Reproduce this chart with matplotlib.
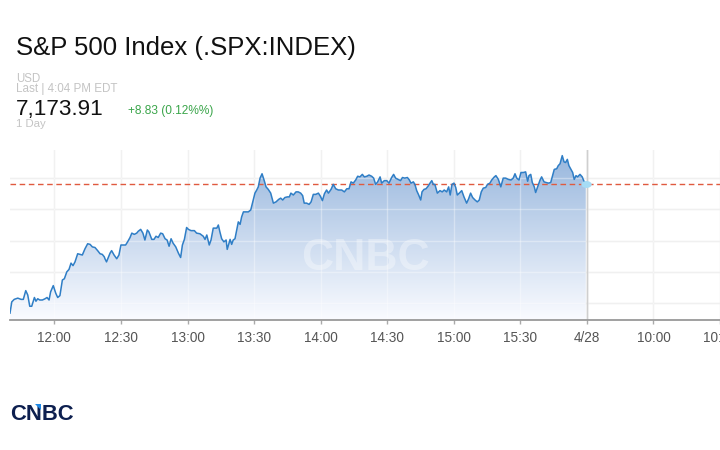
import matplotlib
matplotlib.use('Agg')
import matplotlib.pyplot as plt
import numpy as np
from matplotlib.colors import LinearSegmentedColormap
from matplotlib.patches import Polygon
from matplotlib.path import Path
from matplotlib.transforms import Affine2D

plt.rcParams['font.family'] = ['Liberation Sans', 'DejaVu Sans']

# ---- data ----
title = "S&P 500 Index (.SPX:INDEX)"
currency = "USD"
last_time = "Last | 4:04 PM EDT"
last_price_text = "7,173.91"
change_text = "+8.83 (0.12%%)"
period_text = "1 Day"
prev_close = 7165.08

# minutes since the 9:30 open (next session appended after 16:00 close)
minutes = [
    130.0, 130.8, 131.9, 133.5, 135.0, 136.0, 137.1, 138.0, 138.9, 139.8,
    141.0, 141.7, 142.5, 143.4, 144.6, 145.8, 146.7, 147.6, 148.3, 149.5,
    150.6, 151.5, 152.5, 153.6, 154.5, 155.6, 156.6, 157.5, 158.4, 159.3,
    160.5, 161.5, 162.6, 163.8, 165.0, 166.1, 167.1, 168.3, 169.5, 170.6,
    171.6, 172.5, 172.8, 173.5, 175.1, 175.8, 176.9, 178.1, 179.1, 180.0,
    181.1, 182.1, 183.0, 184.1, 184.9, 186.0, 187.1, 187.8, 188.9, 189.9,
    190.8, 191.9, 192.6, 193.9, 194.9, 195.8, 196.8, 197.9, 198.8, 199.9,
    200.8, 201.7, 202.6, 203.5, 204.7, 205.9, 206.9, 207.7, 208.6, 209.6,
    210.4, 211.6, 213.1, 214.1, 215.6, 217.1, 217.9, 218.7, 219.8, 220.6,
    221.6, 223.2, 223.9, 224.6, 225.4, 226.4, 227.4, 227.9, 229.2, 229.9,
    230.6, 231.4, 232.2, 232.9, 233.7, 234.4, 235.2, 236.4, 237.4, 238.5,
    239.4, 240.4, 241.2, 241.9, 242.7, 243.6, 244.5, 245.4, 246.4, 247.5,
    248.7, 249.9, 251.1, 252.0, 252.9, 253.9, 255.0, 255.9, 256.6, 257.7,
    258.9, 259.9, 261.0, 261.9, 262.6, 263.7, 264.8, 265.7, 266.7, 267.8,
    269.0, 269.9, 270.8, 271.7, 272.7, 273.5, 274.7, 275.7, 276.8, 278.0,
    279.5, 280.7, 281.8, 282.8, 283.7, 284.7, 285.8, 286.7, 287.7, 288.8,
    289.7, 290.8, 291.8, 293.0, 293.9, 294.8, 295.7, 296.8, 297.5, 298.7,
    299.8, 300.8, 302.0, 302.9, 303.8, 304.9, 306.0, 306.9, 307.9, 309.1,
    310.0, 310.7, 311.8, 312.5, 313.3, 314.2, 315.1, 315.7, 316.6, 317.5,
    318.4, 319.3, 320.1, 320.8, 321.5, 322.6, 323.8, 324.8, 325.7, 326.8,
    327.7, 328.4, 329.2, 330.1, 330.9, 331.6, 332.5, 333.6, 334.6, 335.8,
    336.7, 337.6, 338.5, 339.6, 340.6, 341.5, 342.4, 343.3, 344.4, 345.2,
    346.3, 347.1, 348.3, 349.0, 350.1, 351.2, 352.3, 353.4, 354.6, 355.8,
    356.8, 357.6, 358.4, 359.4, 360.3, 361.4, 362.4, 363.3, 363.9, 364.7,
    365.4, 366.3, 366.9, 367.8, 368.9, 369.6, 370.7, 371.6, 372.6, 373.7,
    374.6, 375.3, 376.4, 377.1, 377.9, 378.9, 379.7, 380.4, 381.2, 381.9,
    382.8, 383.6, 384.3, 385.1, 385.8, 386.9, 387.9, 388.8, 389.5,
]
prices = [
    6959, 6977, 6981, 6983, 6981, 6981, 6995, 6988, 6970, 6970,
    6984, 6978, 6982, 6980, 6980, 6982, 6984, 6980, 6993, 7003,
    6991, 6984, 6987, 7012, 7014, 7025, 7029, 7039, 7035, 7041,
    7054, 7053, 7052, 7062, 7070, 7069, 7065, 7064, 7059, 7054,
    7053, 7049, 7046, 7041, 7055, 7059, 7052, 7046, 7052, 7068,
    7068, 7068, 7073, 7080, 7087, 7085, 7087, 7090, 7093, 7087,
    7076, 7092, 7089, 7077, 7077, 7082, 7080, 7087, 7086, 7078,
    7076, 7066, 7078, 7071, 7065, 7055, 7048, 7068, 7077, 7096,
    7093, 7091, 7091, 7087, 7086, 7082, 7077, 7084, 7068, 7076,
    7095, 7095, 7100, 7089, 7078, 7073, 7076, 7061, 7077, 7069,
    7076, 7078, 7092, 7105, 7101, 7113, 7121, 7121, 7121, 7124,
    7137, 7151, 7156, 7161, 7175, 7182, 7172, 7161, 7157, 7151,
    7135, 7137, 7141, 7143, 7140, 7144, 7145, 7145, 7151, 7148,
    7153, 7153, 7151, 7147, 7135, 7135, 7133, 7137, 7149, 7149,
    7151, 7146, 7139, 7150, 7156, 7151, 7157, 7165, 7158, 7156,
    7156, 7153, 7158, 7158, 7169, 7167, 7172, 7178, 7177, 7181,
    7177, 7178, 7180, 7178, 7175, 7165, 7169, 7177, 7167, 7171,
    7171, 7167, 7176, 7181, 7175, 7173, 7171, 7176, 7175, 7176,
    7172, 7167, 7169, 7165, 7155, 7148, 7140, 7153, 7157, 7158,
    7162, 7167, 7171, 7165, 7165, 7151, 7155, 7153, 7156, 7153,
    7161, 7148, 7165, 7167, 7160, 7148, 7151, 7155, 7145, 7135,
    7142, 7151, 7144, 7140, 7137, 7140, 7153, 7159, 7160, 7165,
    7167, 7172, 7177, 7179, 7173, 7161, 7175, 7175, 7173, 7172,
    7175, 7182, 7175, 7172, 7184, 7184, 7185, 7170, 7179, 7181,
    7168, 7161, 7152, 7161, 7172, 7177, 7169, 7168, 7167, 7168,
    7180, 7189, 7190, 7195, 7198, 7211, 7201, 7200, 7205, 7195,
    7189, 7184, 7173, 7179, 7177, 7181, 7177, 7169, 7166,
]
assert len(minutes) == len(prices)

tick_minutes = [150, 180, 210, 240, 270, 300, 330, 360, 390, 420, 450]
tick_labels = ['12:00', '12:30', '13:00', '13:30', '14:00', '14:30',
               '15:00', '15:30', '4/28', '10:00', '10:30']
date_tick = 390
grid_values = [6975, 7025, 7075, 7125, 7175]
x_range = (130, 450)
y_range = (6948, 7220)

# ---- figure ----
W, H = 720, 450
fig = plt.figure(figsize=(W / 100, H / 100), dpi=100)
fig.patch.set_facecolor('white')

def fx(px):
    return px / W

def fy(py):
    return 1 - py / H

fig.text(fx(16), fy(55), title, fontsize=18.5, color='#111111', va='baseline', ha='left')
fig.text(fx(16), fy(82), currency, fontsize=8.3, color='#c4c4c4', va='baseline', ha='left')
fig.text(fx(16), fy(92.5), last_time, fontsize=8.4, color='#c4c4c4', va='baseline', ha='left')
fig.text(fx(16), fy(114.5), last_price_text, fontsize=16.2, color='#111111', va='baseline', ha='left')
fig.text(fx(128), fy(114), change_text, fontsize=8.6, color='#3aa54a', va='baseline', ha='left')
fig.text(fx(16), fy(127), period_text, fontsize=8.2, color='#c4c4c4', va='baseline', ha='left')

ax = fig.add_axes([fx(10), fy(320), fx(710), (320 - 150) / H])
ax.set_facecolor('white')

# grid (under and faintly over the fill)
for v in grid_values:
    ax.axhline(v, color='#e9e9e9', lw=1.0, zorder=0.5)
    ax.axhline(v, color='white', lw=1.0, alpha=0.35, zorder=2)
for m in tick_minutes:
    c = '#cfcfcf' if m == date_tick else '#ebebeb'
    ax.axvline(m, color=c, lw=1.0, zorder=0.5)
    ax.axvline(m, color='white' if m != date_tick else c, lw=1.0,
               alpha=0.35 if m != date_tick else 1.0, zorder=2)

# gradient fill under the line
cmap = LinearSegmentedColormap.from_list('g', [(0.98, 0.985, 1.0), (0.60, 0.72, 0.87)])
grad = np.linspace(0, 1, 256).reshape(-1, 1)
ymax = max(prices)
im = ax.imshow(grad, extent=[minutes[0], minutes[-1], y_range[0], ymax],
               origin='lower', aspect='auto', cmap=cmap, zorder=1, interpolation='bilinear')
verts = list(zip(minutes, prices)) + [(minutes[-1], y_range[0]), (minutes[0], y_range[0])]
poly = Polygon(verts, closed=True, facecolor='none', edgecolor='none', transform=ax.transData)
ax.add_patch(poly)
im.set_clip_path(poly)

# watermark
ax.text(0.5, 0.36, 'CNBC', transform=ax.transAxes, fontsize=32, fontweight='bold',
        color='white', alpha=0.35, ha='center', va='center', zorder=3)

# previous close
ax.axhline(prev_close, color='#e05a3f', lw=1.0, dashes=(4, 2.6), zorder=3)

# price line
ax.plot(minutes, prices, color='#2f7ec6', lw=1.1, zorder=4, solid_joinstyle='round')

# last point marker
ell = Path.unit_circle().transformed(Affine2D().scale(1.5, 1.0))
ax.plot([minutes[-1]], [prices[-1]], marker=ell, ms=7.5, color='#a6dcf5', mec='none', zorder=5)

ax.set_xlim(*x_range)
ax.set_ylim(*y_range)
ax.set_xticks(tick_minutes)
ax.set_xticklabels(tick_labels)
ax.set_yticks([])
ax.tick_params(axis='x', length=3, width=1, color='#aaaaaa', labelsize=9.8,
               labelcolor='#555555', pad=5)
for s in ['left', 'right', 'top']:
    ax.spines[s].set_visible(False)
ax.spines['bottom'].set_color('#999999')
ax.spines['bottom'].set_linewidth(1.3)

# bottom logo
fig.text(fx(10), fy(420), 'CNBC', fontsize=15.8, fontweight='bold', color='#0d1f4f',
         va='baseline', ha='left', zorder=3)
tri = Polygon([(fx(34.5), fy(403.5)), (fx(40.5), fy(403.5)), (fx(40.5), fy(409.5))], closed=True,
              transform=fig.transFigure, facecolor='#1e88e5', edgecolor='none', zorder=6)
fig.add_artist(tri)

fig.savefig('out.png', dpi=100, facecolor='white')
